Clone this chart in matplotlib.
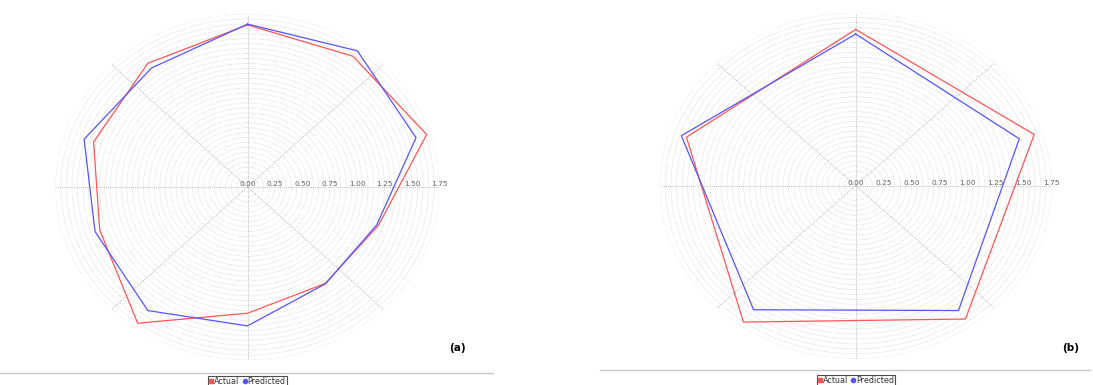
import numpy as np
import matplotlib
matplotlib.use("Agg")
import matplotlib.pyplot as plt
from matplotlib.lines import Line2D

# spoke values, clockwise from north
actual_a = [1.64, 1.635, 1.717, 1.255, 1.206, 1.277, 1.703, 1.416, 1.475, 1.546]
predicted_a = [1.648, 1.703, 1.615, 1.239, 1.21, 1.405, 1.545, 1.461, 1.566, 1.488]
actual_b = [1.581, 1.676, 1.667, 1.705, 1.589]
predicted_b = [1.534, 1.536, 1.561, 1.551, 1.637]

tick_values = [0.0, 0.25, 0.50, 0.75, 1.00, 1.25, 1.50, 1.75]
r_max = 1.75

RED = "#ff5555"
BLUE = "#5555ff"
W, H = 1093, 385


def px_box(cx, cy, rx, ry):
    """Axes rectangle in figure fractions from a pixel centre and radii."""
    return [(cx - rx) / W, (H - (cy + ry)) / H, 2 * rx / W, 2 * ry / H]


def spider(fig, box, actual, predicted):
    ax = fig.add_axes(box, projection="polar")
    ax.set_aspect("auto")
    ax.set_theta_zero_location("N")
    ax.set_theta_direction(-1)
    ax.set_ylim(0, r_max)
    ax.spines["polar"].set_visible(False)
    ax.patch.set_alpha(0)

    ax.set_rgrids(np.arange(0.05, r_max + 0.001, 0.05), labels=[])
    ax.set_thetagrids(np.arange(0, 360, 45), labels=[])
    ax.grid(True, color="#c4c4c4", linestyle=(0, (1, 1.8)), linewidth=0.5)
    ax.xaxis.grid(True, color="#a8a8a8", linestyle=(0, (1, 1.5)), linewidth=0.6)

    n = len(actual)
    theta = np.linspace(0, 2 * np.pi, n, endpoint=False)
    theta = np.append(theta, theta[0])
    ax.plot(theta, actual + actual[:1], color=RED, lw=0.9)
    ax.plot(theta, predicted + predicted[:1], color=BLUE, lw=0.9)

    for v in tick_values:
        ax.text(np.pi / 2, v, f"{v:.2f}", ha="center", va="bottom",
                fontsize=5.3, color="#666666", clip_on=False,
                transform=ax.transData)
    return ax


fig = plt.figure(figsize=(W / 100, H / 100), dpi=100)

spider(fig, px_box(247.5, 187, 192, 173), actual_a, predicted_a)
spider(fig, px_box(855.7, 185.7, 196, 173), actual_b, predicted_b)

# panel separators
fig.add_artist(Line2D([0 / W, 493 / W], [1 - 373 / H] * 2,
                      color="#c8c8c8", lw=1))
fig.add_artist(Line2D([600 / W, 1090 / W], [1 - 370 / H] * 2,
                      color="#c8c8c8", lw=1))

fig.text(457 / W, 1 - 348 / H, "(a)", ha="center", va="center",
         fontsize=7.5, fontweight="bold")
fig.text(1071 / W, 1 - 348 / H, "(b)", ha="center", va="center",
         fontsize=7.5, fontweight="bold")

handles = [
    Line2D([], [], marker="s", color=RED, lw=0, markersize=3),
    Line2D([], [], marker="o", color=BLUE, lw=0, markersize=3),
]
for cx, top in [(247.5, 375.5), (856, 374.5)]:
    leg = fig.legend(handles, ["Actual", "Predicted"], ncol=2,
                     loc="upper center", bbox_to_anchor=(cx / W, 1 - top / H),
                     fontsize=5.8, frameon=True, fancybox=False,
                     handlelength=0.5, handletextpad=0.1, columnspacing=0.4,
                     borderpad=0.15, borderaxespad=0)
    leg.get_frame().set_edgecolor("#222222")
    leg.get_frame().set_linewidth(0.8)
    for t in leg.get_texts():
        t.set_color("#333333")

fig.savefig("out.png", dpi=100)
